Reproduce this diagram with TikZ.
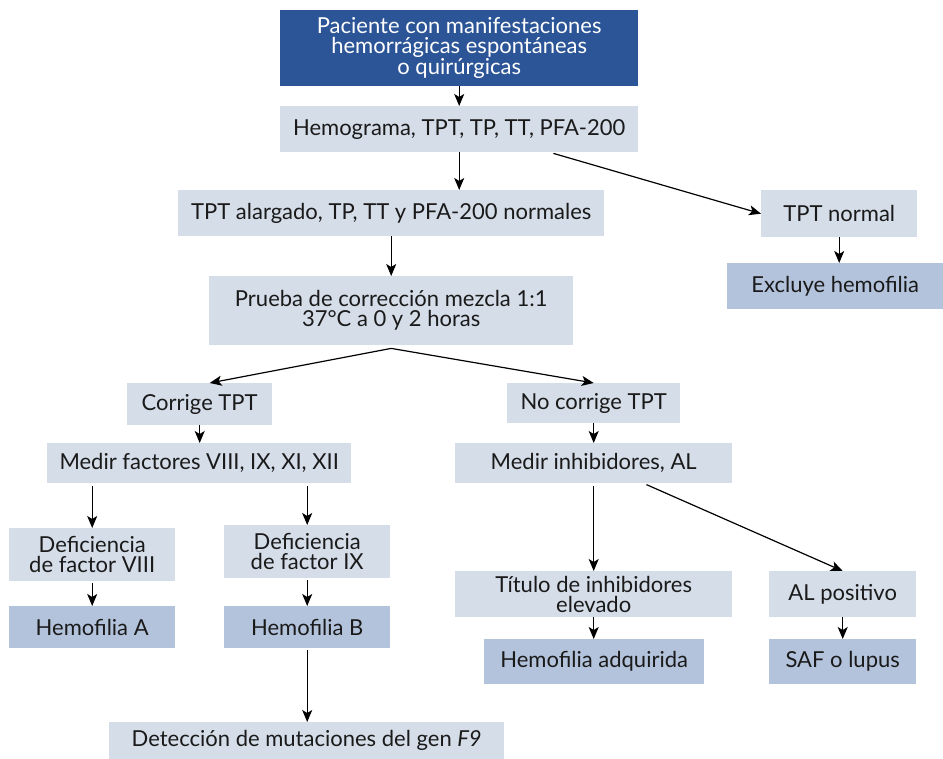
\documentclass[tikz,border=0pt]{standalone}
\usepackage{fontspec}
\setmainfont{Lato}
\usetikzlibrary{arrows.meta}
\definecolor{darkbox}{HTML}{2C5597}
\definecolor{lightbox}{HTML}{D5DDE9}
\definecolor{midbox}{HTML}{B4C3DC}
\definecolor{txt}{HTML}{1A1A1A}
\begin{document}
\begin{tikzpicture}[x=1pt,y=-1pt,
  box/.style={fill=lightbox, text=txt, inner sep=0pt, anchor=north west, align=center,
    font=\fontsize{22}{20}\selectfont},
  resbox/.style={box, fill=midbox},
  topbox/.style={box, fill=darkbox, text=white},
  arr/.style={-{Stealth[length=12pt,width=10pt,inset=3pt]}, line width=1.2pt, black}]
\useasboundingbox (0,0) rectangle (943,759);
\node[topbox, minimum width=358pt, minimum height=76pt] (top) at (280,10) {Paciente con manifestaciones\\hemorrágicas espontáneas\\o quirúrgicas};
\node[box, minimum width=358pt, minimum height=46pt] (hemo) at (280,106) {Hemograma, TPT, TP, TT, PFA-200};
\node[box, minimum width=426pt, minimum height=46pt] (alarg) at (178,190) {TPT alargado, TP, TT y PFA-200 normales};
\node[box, minimum width=156pt, minimum height=47pt] (tnorm) at (761,190) {TPT normal};
\node[resbox, minimum width=216pt, minimum height=46pt] (excl) at (727,263) {Excluye hemofilia};
\node[box, minimum width=364pt, minimum height=69pt] (prueba) at (209,276) {Prueba de corrección mezcla 1:1\\37°C a 0 y 2 horas};
\node[box, minimum width=145pt, minimum height=42pt] (cor) at (127,383) {Corrige TPT};
\node[box, minimum width=173pt, minimum height=40pt] (nocor) at (507,383) {No corrige TPT};
\node[box, minimum width=304pt, minimum height=40pt] (medf) at (47,443) {Medir factores VIII, IX, XI, XII};
\node[box, minimum width=277pt, minimum height=40pt] (medi) at (455,443) {Medir inhibidores, AL};
\node[box, minimum width=166pt, minimum height=53pt] (def8) at (9,528) {Deficiencia\\de factor VIII};
\node[box, minimum width=166pt, minimum height=53pt] (def9) at (224,525) {Deficiencia\\de factor IX};
\node[resbox, minimum width=166pt, minimum height=42pt] (hema) at (9,606) {Hemofilia A};
\node[resbox, minimum width=166pt, minimum height=42pt] (hemb) at (224,606) {Hemofilia B};
\node[box, minimum width=395pt, minimum height=37pt] (det) at (109,722) {Detección de mutaciones del gen \textit{F9}};
\node[box, minimum width=277pt, minimum height=46pt] (tit) at (455,571) {Título de inhibidores\\elevado};
\node[box, minimum width=147pt, minimum height=46pt] (alpos) at (769,571) {AL positivo};
\node[resbox, minimum width=220pt, minimum height=45pt] (hadq) at (484,639) {Hemofilia adquirida};
\node[resbox, minimum width=147pt, minimum height=45pt] (saf) at (769,639) {SAF o lupus};
% connectors
\draw[arr] (top.south) -- (hemo.north);
\draw[arr] (hemo.south) -- (hemo.south |- alarg.north);
\draw[arr] ([xshift=-85pt,yshift=-1pt]hemo.south east) -- (tnorm.west);
\draw[arr] (tnorm.south) -- (tnorm.south |- excl.north);
\draw[arr] (alarg.south) -- (alarg.south |- prueba.north);
\coordinate (pr) at ([yshift=-3pt]prueba.south);
\draw[arr] (pr) -- ([xshift=10pt]cor.north);
\draw[arr] (pr) -- (nocor.north);
\draw[arr] (cor.south) -- (cor.south |- medf.north);
\draw[arr, shorten <=3pt] (def8.north |- medf.south) -- (def8.north);
\draw[arr, shorten <=3pt] (def9.north |- medf.south) -- (def9.north);
\draw[arr, shorten <=2pt] (def8.south) -- (hema.north);
\draw[arr, shorten <=2pt] (def9.south) -- (hemb.north);
\draw[arr, shorten <=2pt] (hemb.south) -- (hemb.south |- det.north);
\draw[arr] (nocor.south) -- (nocor.south |- medi.north);
\draw[arr, shorten <=3pt] (medi.south) -- (medi.south |- tit.north);
\draw[arr, shorten <=3pt] ([xshift=50pt]medi.south) -- (alpos.north);
\draw[arr] (tit.south) -- (tit.south |- hadq.north);
\draw[arr] (alpos.south) -- (saf.north);
\end{tikzpicture}
\end{document}
